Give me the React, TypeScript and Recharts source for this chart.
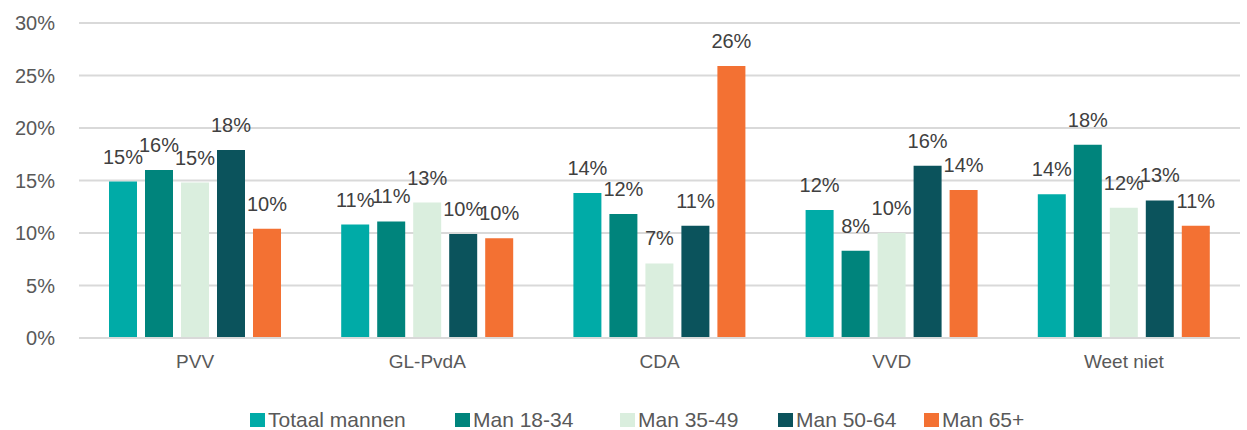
import React from "react";
import { BarChart, Bar, XAxis, YAxis, CartesianGrid, Legend, LabelList } from "recharts";

const categories = ["PVV", "GL-PvdA", "CDA", "VVD", "Weet niet"];
const totaalMannen = [14.9, 10.8, 13.8, 12.2, 13.7];
const man1834 = [16.0, 11.1, 11.8, 8.3, 18.4];
const man3549 = [14.8, 12.9, 7.1, 10.0, 12.4];
const man5064 = [17.9, 9.9, 10.7, 16.4, 13.1];
const man65 = [10.4, 9.5, 25.9, 14.1, 10.7];
const yTicks = [0, 5, 10, 15, 20, 25, 30];

const seriesNames = ["Totaal mannen", "Man 18-34", "Man 35-49", "Man 50-64", "Man 65+"];
const seriesValues = [totaalMannen, man1834, man3549, man5064, man65];
const seriesColors = ["#00ABA7", "#00847C", "#DAEEDE", "#0B535C", "#F37133"];
const seriesKeys = ["s0", "s1", "s2", "s3", "s4"];

const data = categories.map((c, i) => {
  const row: any = { name: c };
  seriesKeys.forEach((k, j) => (row[k] = seriesValues[j][i]));
  return row;
});

const legendItemWidths = [205, 165, 158, 146, 120];

const LegendContent = () => (
  <div
    style={{
      height: 30,
      paddingTop: 10,
      boxSizing: "border-box",
      display: "flex",
      justifyContent: "flex-start",
      paddingLeft: 250,
    }}
  >
    {seriesNames.map((n, i) => (
      <div
        key={n}
        style={{
          display: "flex",
          alignItems: "center",
          width: legendItemWidths[i],
          height: 20,
          whiteSpace: "nowrap",
          flexShrink: 0,
        }}
      >
        <div style={{ width: 15, height: 14, background: seriesColors[i], marginRight: 3, flexShrink: 0 }} />
        <span
          style={{
            fontFamily: "'Liberation Sans', Arial, sans-serif",
            fontSize: 21,
            color: "#595959",
            lineHeight: "20px",
          }}
        >
          {n}
        </span>
      </div>
    ))}
  </div>
);

export default function App() {
  return (
    <div style={{ position: "absolute", left: 0, top: 0, background: "#fff" }}>
      <BarChart
        width={1247}
        height={430}
        data={data}
        margin={{ top: 23, right: 7, bottom: 0, left: 0 }}
        barGap={8}
      >
        <CartesianGrid vertical={false} stroke="#D9D9D9" strokeWidth={2} />
        <XAxis
          dataKey="name"
          axisLine={{ stroke: "#D9D9D9", strokeWidth: 2 }}
          tickLine={false}
          tickSize={0}
          tickMargin={17}
          height={62}
          tick={{ fill: "#595959", fontSize: 19, fontFamily: "'Liberation Sans', Arial, sans-serif" }}
        />
        <YAxis
          domain={[0, 30]}
          ticks={yTicks}
          width={79}
          axisLine={false}
          tickLine={false}
          tickSize={0}
          tickMargin={24}
          tickFormatter={(v: number) => `${v}%`}
          tick={{ fill: "#595959", fontSize: 20, fontFamily: "'Liberation Sans', Arial, sans-serif" }}
        />
        <Legend verticalAlign="bottom" content={<LegendContent />} wrapperStyle={{ bottom: 0, left: 0 }} />
        {seriesKeys.map((k, i) => (
          <Bar
            key={k}
            dataKey={k}
            name={seriesNames[i]}
            fill={seriesColors[i]}
            barSize={28}
            isAnimationActive={false}
          >
            <LabelList
              dataKey={k}
              position="top"
              offset={18}
              formatter={(v: number) => `${Math.round(v)}%`}
              style={{ fill: "#404040", fontSize: 20, fontFamily: "'Liberation Sans', Arial, sans-serif" }}
            />
          </Bar>
        ))}
      </BarChart>
    </div>
  );
}
